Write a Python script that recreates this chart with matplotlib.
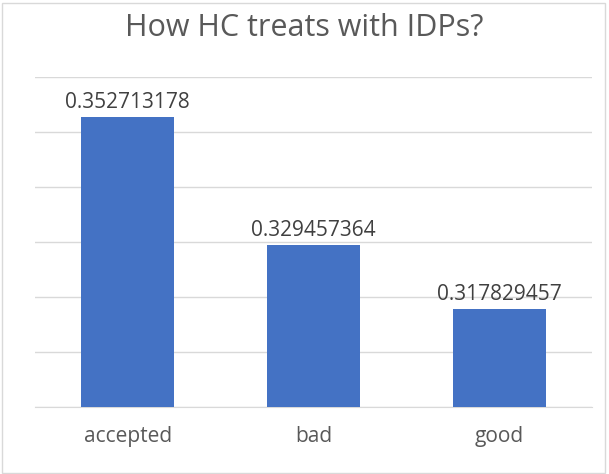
import numpy as np
import matplotlib.pyplot as plt
from matplotlib.patches import Rectangle

# Chart data
categories = ['accepted', 'bad', 'good']
values = [0.352713178, 0.329457364, 0.317829457]
value_labels = ['0.352713178', '0.329457364', '0.317829457']

plt.rcParams['font.family'] = ['Open Sans', 'DejaVu Sans']

fig = plt.figure(figsize=(6.09, 4.74), dpi=100)
ax = fig.add_axes([0.0575, 0.1414, 0.9145, 0.6962])

x = np.arange(len(categories))
bars = ax.bar(x, values, width=0.5, color='#4472C4', zorder=3)

# Value labels above each bar
for bar, txt in zip(bars, value_labels):
    ax.annotate(txt, (bar.get_x() + bar.get_width() / 2, bar.get_height()),
                xytext=(0, 3), textcoords='offset points',
                ha='center', va='bottom', fontsize=15, color='#404040')

ax.set_xlim(-0.5, 2.5)
ax.set_ylim(0.30, 0.36)
ax.set_yticks(np.arange(0.30, 0.3601, 0.01))
ax.yaxis.grid(True, color='#D9D9D9', linewidth=1, zorder=0)
ax.set_yticklabels([])
ax.tick_params(axis='y', length=0)
ax.set_xticks(x)
ax.set_xticklabels(categories, fontsize=15, color='#595959')
ax.tick_params(axis='x', length=0, pad=14)
for s in ['top', 'right', 'left']:
    ax.spines[s].set_visible(False)
ax.spines['bottom'].set_color('#D9D9D9')

fig.text(0.5, 0.94, 'How HC treats with IDPs?', ha='center', va='center',
         fontsize=22, color='#595959')

# light border around the chart
fig.patches.append(Rectangle((0.003, 0.003), 0.99, 0.99, transform=fig.transFigure,
                             fill=False, edgecolor='#D9D9D9', linewidth=1))

fig.savefig('out.png', dpi=100)
